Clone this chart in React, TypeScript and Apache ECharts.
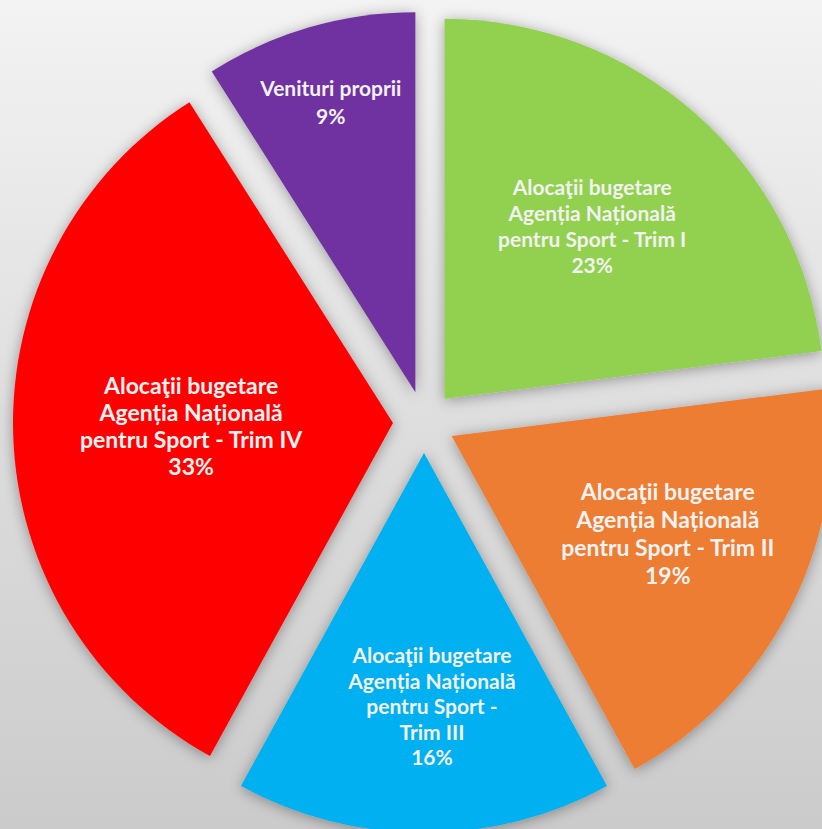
import React, { useEffect, useRef } from "react";
import * as echarts from "echarts";

const CATEGORIES = [
  "Alocaţii bugetare\nAgenția Națională\npentru Sport - Trim I",
  "Alocaţii bugetare\nAgenția Națională\npentru Sport - Trim II",
  "Alocaţii bugetare\nAgenția Națională\npentru Sport -\nTrim III",
  "Alocaţii bugetare\nAgenția Națională\npentru Sport - Trim IV",
  "Venituri proprii",
];
const VALUES = [23, 19, 16, 33, 9];
const COLORS = ["#92d050", "#ed7d31", "#00b0f0", "#ff0000", "#7030a0"];

// label styling / placement (distance from centre as fraction of radius, angle tweak in degrees)
const LABEL_DIST = [0.68, 0.705, 0.747, 0.613, 0.879];
const LABEL_ANGLE_SHIFT = [-0.8, -2.5, -1.6, 1.0, 0];
const LABEL_FONT = [21, 23, 21, 23, 21];
const LABEL_LINE_H = [26, 28, 25.5, 27, 28];

const CX = 424;
const CY = 422;
const R = 380;
const OFFSET = 31;

export default function App() {
  const ref = useRef<HTMLDivElement>(null);
  useEffect(() => {
    if (!ref.current) return;
    const chart = echarts.init(ref.current, null, { renderer: "svg" });
    const total = VALUES.reduce((a, b) => a + b, 0);
    const mids: number[] = [];
    let acc = 0;
    VALUES.forEach((v) => {
      mids.push(((acc + v / 2) / total) * Math.PI * 2);
      acc += v;
    });
    const common = {
      type: "pie",
      center: [CX, CY],
      radius: R,
      startAngle: 90,
      clockwise: true,
      silent: true,
      avoidLabelOverlap: false,
      emphasis: { disabled: true },
    };
    chart.setOption({
      animation: false,
      backgroundColor: {
        type: "linear",
        x: 0,
        y: 0,
        x2: 0,
        y2: 1,
        colorStops: [
          { offset: 0, color: "#f3f3f3" },
          { offset: 0.5, color: "#dedede" },
          { offset: 1, color: "#cbcbcb" },
        ],
      },
      series: [
        {
          ...common,
          selectedMode: "multiple",
          selectedOffset: OFFSET,
          itemStyle: {
            shadowBlur: 14,
            shadowColor: "rgba(0,0,0,0.35)",
            shadowOffsetX: 0,
            shadowOffsetY: 2,
          },
          label: { show: false },
          labelLine: { show: false },
          data: VALUES.map((v, i) => ({
            value: v,
            name: CATEGORIES[i],
            selected: true,
            itemStyle: { color: COLORS[i] },
            select: { itemStyle: { color: COLORS[i] } },
          })),
        },
        {
          ...common,
          selectedMode: false,
          itemStyle: { color: "rgba(0,0,0,0)" },
          label: {
            show: true,
            position: "inside",
            color: "#f2f2f2",
            fontFamily: "Lato",
            fontWeight: "bold",
            fontSize: 21,
            lineHeight: 26,
            align: "center",
            formatter: (p: any) => `${p.name}\n${Math.round(p.percent)}%`,
          },
          labelLine: { show: false },
          labelLayout: (p: any) => {
            const i = p.dataIndex;
            const a = mids[i] + (LABEL_ANGLE_SHIFT[i] * Math.PI) / 180;
            const d = LABEL_DIST[i] * R;
            return {
              x: CX + Math.sin(a) * d,
              y: CY - Math.cos(a) * d,
              align: "center",
              verticalAlign: "middle",
            };
          },
          data: VALUES.map((v, i) => ({
            value: v,
            name: CATEGORIES[i],
            label: { fontSize: LABEL_FONT[i], lineHeight: LABEL_LINE_H[i] },
          })),
        },
      ],
    });
    return () => chart.dispose();
  }, []);
  return (
    <div
      ref={ref}
      style={{ position: "absolute", left: 0, top: 0, width: 822, height: 829 }}
    />
  );
}
